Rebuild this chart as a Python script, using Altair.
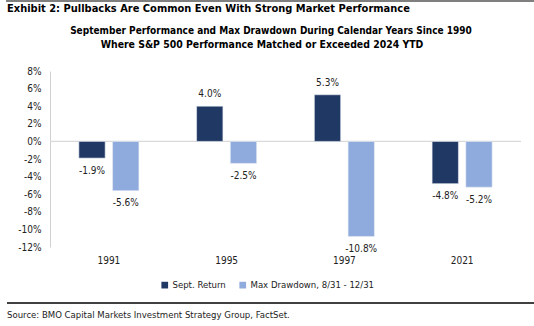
import altair as alt
import pandas as pd

years = ["1991", "1995", "1997", "2021"]
sept_return = [-1.9, 4.0, 5.3, -4.8]
max_drawdown = [-5.6, -2.5, -10.8, -5.2]
series_names = ["Sept. Return", "Max Drawdown, 8/31 - 12/31"]
colors = ["#203864", "#8FAADC"]
y_ticks = [-12, -10, -8, -6, -4, -2, 0, 2, 4, 6, 8]

exhibit_title = "Exhibit 2: Pullbacks Are Common Even With Strong Market Performance"
chart_title = ["September Performance and Max Drawdown During Calendar Years Since 1990",
               "Where S&P 500 Performance Matched or Exceeded 2024 YTD"]
source_text = "Source: BMO Capital Markets Investment Strategy Group, FactSet."

FONT = "Liberation Sans Narrow, DejaVu Sans Condensed, Roboto Condensed, Arial Narrow, sans-serif"

rows = []
for i, y in enumerate(years):
    for s, v in ((series_names[0], sept_return[i]), (series_names[1], max_drawdown[i])):
        rows.append({"year": y, "series": s, "value": v, "lab": f"{v:.1f}%"})
df = pd.DataFrame(rows)

W, H = 471, 176

y_scale = alt.Scale(domain=[-12, 8], nice=False)
y_axis = alt.Axis(title=None, values=y_ticks, grid=False, ticks=False, tickSize=0,
                  domain=True, domainColor="#D0D0D0", labelPadding=9,
                  labelOverlap=False, labelBound=False,
                  labelExpr="datum.value + '%'", labelFontSize=10,
                  labelColor="#222222", labelFont=FONT)

base = alt.Chart(df).encode(
    x=alt.X("year:N", sort=years,
            scale=alt.Scale(paddingInner=0.49, paddingOuter=0.245),
            axis=alt.Axis(title=None, domain=False, ticks=False, tickSize=0, labelAngle=0,
                          labelPadding=8, labelFontSize=10, labelColor="#222222", labelFont=FONT)),
    xOffset=alt.XOffset("series:N", sort=series_names,
                        scale=alt.Scale(paddingInner=0.22, paddingOuter=0)),
    y=alt.Y("value:Q", scale=y_scale, axis=y_axis),
)

bars = base.mark_bar(stroke="#e8ecf4", strokeWidth=0.6).encode(
    color=alt.Color("series:N", sort=series_names,
                    scale=alt.Scale(domain=series_names, range=colors),
                    legend=alt.Legend(title=None, orient="none", direction="horizontal",
                                      legendX=110, legendY=209, symbolType="square",
                                      symbolSize=45, symbolStrokeWidth=0, labelFontSize=9.5,
                                      labelFont=FONT, labelColor="#222222", columnPadding=12,
                                      labelOffset=3))
)

zero = alt.Chart(pd.DataFrame({"value": [0]})).mark_rule(color="#D9D9D9", strokeWidth=1.2).encode(
    y=alt.Y("value:Q", scale=y_scale, axis=y_axis), x=alt.value(0), x2=alt.value(W))

pos_labels = base.transform_filter("datum.value >= 0").mark_text(
    baseline="middle", dy=-12, fontSize=10, font=FONT, color="#222222").encode(text="lab:N")
neg_labels = base.transform_filter("datum.value < 0").mark_text(
    baseline="middle", dy=12.5, fontSize=10, font=FONT, color="#222222").encode(text="lab:N")

ex_title = alt.Chart(pd.DataFrame({"t": [exhibit_title]})).mark_text(
    align="left", baseline="middle", fontSize=11, fontWeight="bold", font=FONT,
    color="#000000").encode(x=alt.value(-43), y=alt.value(-62), text="t:N")

t1 = alt.Chart(pd.DataFrame({"t": [chart_title[0]]})).mark_text(
    align="center", baseline="middle", fontSize=10, fontWeight="bold", font=FONT,
    color="#000000").encode(x=alt.value(221), y=alt.value(-40), text="t:N")
t2 = alt.Chart(pd.DataFrame({"t": [chart_title[1]]})).mark_text(
    align="center", baseline="middle", fontSize=10.4, fontWeight="bold", font=FONT,
    color="#000000").encode(x=alt.value(212), y=alt.value(-26), text="t:N")

src = alt.Chart(pd.DataFrame({"t": [source_text]})).mark_text(
    align="left", baseline="middle", fontSize=9.5, font=FONT, color="#222222").encode(
    x=alt.value(-43), y=alt.value(244), text="t:N")

top_line = alt.Chart(pd.DataFrame({"z": [0]})).mark_rule(color="#000000", strokeWidth=1.2).encode(
    x=alt.value(-44), x2=alt.value(484), y=alt.value(-70))
bottom_line = alt.Chart(pd.DataFrame({"z": [0]})).mark_rule(color="#000000", strokeWidth=1.5).encode(
    x=alt.value(-43), x2=alt.value(484), y=alt.value(232))

chart = alt.layer(zero, bars, pos_labels, neg_labels, ex_title, t1, t2, src, top_line, bottom_line).properties(
    width=W, height=H,
    padding={"left": 50, "top": 71, "right": 13, "bottom": 79},
    autosize=alt.AutoSizeParams(type="none"),
    background="white",
).configure_view(stroke=None)

chart.save("out.html", embed_options={"renderer": "svg", "actions": False})
